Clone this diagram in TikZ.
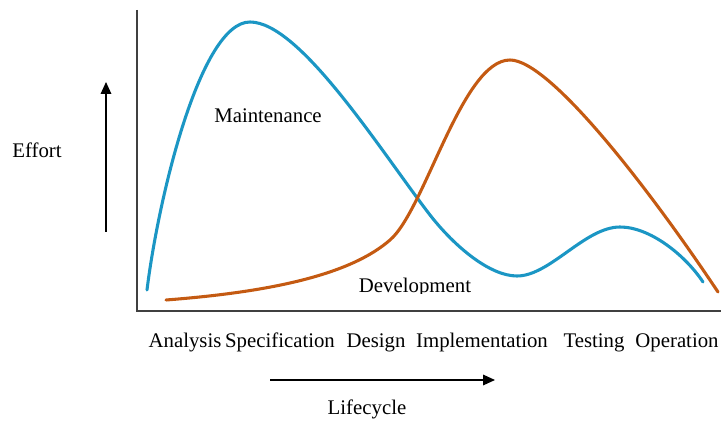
\documentclass[tikz,border=0pt]{standalone}
\usepackage{fontspec}
\setmainfont{Liberation Serif}
\usepackage{tikz}
\usetikzlibrary{arrows, arrows.meta, shapes}
\definecolor{maintblue}{RGB}{27,150,196}
\definecolor{devbrown}{RGB}{196,90,18}

\begin{document}
\begin{tikzpicture}[x=0.75pt,y=-0.75pt,
		lbl/.style={inner sep=0pt, anchor=base, font=\fontsize{15.6}{18}\selectfont},
		curve/.style={line width=2.3pt, line cap=round, line join=round},
		axis/.style={draw, line width=1.3pt, black!75},
		dirarrow/.style={draw, ->, >={Triangle[length=9pt,width=8pt]}, line width=0.9pt}]
	\useasboundingbox (0,0) rectangle (721,423);
	% axes
	\coordinate (ytop) at (137,10);
	\coordinate (origin) at (137,311);
	\coordinate (xend) at (721,311);
	\path[axis] (ytop) -- (origin) -- (xend);
	% effort
	\coordinate (effortlo) at (106,232);
	\coordinate (efforthi) at (106,82);
	\path[dirarrow] (effortlo) -- (efforthi);
	\node[lbl] (effort) at (37,158) {Effort};
	% maintenance curve
	\draw[curve, maintblue] (147,290) .. controls (158,200) and (200,22) .. (250,22)
		.. controls (300,22) and (380,150) .. (430,215)
		.. controls (455,247) and (490,276) .. (517,276)
		.. controls (550,276) and (585,227) .. (620,227)
		.. controls (650,227) and (685,255) .. (703,282);
	% development curve
	\draw[curve, devbrown] (166,300) .. controls (270,292) and (350,275) .. (390,240)
		.. controls (425,210) and (462,60) .. (510,60)
		.. controls (550,60) and (650,190) .. (718,292);
	\node[lbl] (maint) at (268,123) {Maintenance};
	\begin{scope}
		\clip (300,250) rectangle (520,294);
		\node[lbl] (devel) at (415,293) {Development};
	\end{scope}
	% phases
	\node[lbl] (analysis) at (185,348) {Analysis};
	\node[lbl] (spec) at (280,348) {Specification};
	\node[lbl] (design) at (376,348) {Design};
	\node[lbl] (impl) at (482,348) {Implementation};
	\node[lbl] (testing) at (594,348) {Testing};
	\node[lbl] (operation) at (677,348) {Operation};
	% lifecycle
	\coordinate (lifelo) at (270,380);
	\coordinate (lifehi) at (495,380);
	\path[dirarrow] (lifelo) -- (lifehi);
	\node[lbl] (lifecycle) at (367,415) {Lifecycle};
\end{tikzpicture}
\end{document}
